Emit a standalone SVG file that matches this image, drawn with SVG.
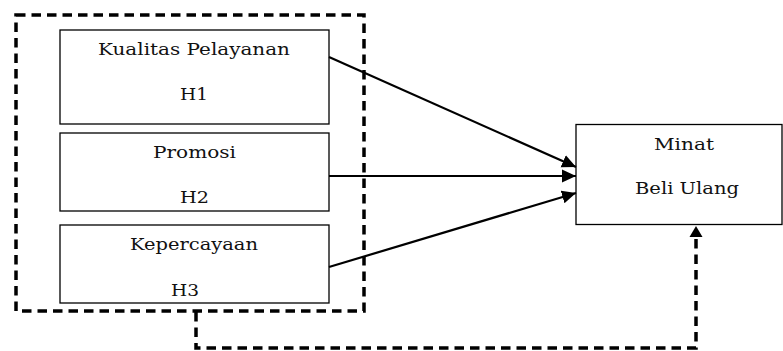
<svg xmlns="http://www.w3.org/2000/svg" width="783" height="351" viewBox="0 0 783 351">
<defs>
<style>
.box{fill:#fff;stroke:#000;stroke-width:1.3}
.lbl{font-family:"DejaVu Serif","Liberation Serif",serif;font-size:17.5px;fill:#111}
.solid{stroke:#000;stroke-width:2.2;fill:none}
.dash{stroke:#000;stroke-width:3.5;fill:none;stroke-dasharray:9.5 6}
</style>
<marker id="ah" markerUnits="userSpaceOnUse" markerWidth="14" markerHeight="14" viewBox="0 0 14 14" refX="14" refY="7" orient="auto">
<path d="M0,0.5 L14,7 L0,13.5 z" fill="#000"/>
</marker>
</defs>
<g id="group-frame">
<rect x="16" y="15" width="348" height="296" class="dash"/>
</g>
<g id="node-h1">
<rect x="60" y="30" width="269" height="94" class="box"/>
<text class="lbl" x="98" y="55" textLength="192" lengthAdjust="spacingAndGlyphs">Kualitas Pelayanan</text>
<text class="lbl" x="180" y="100" textLength="28" lengthAdjust="spacingAndGlyphs">H1</text>
</g>
<g id="node-h2">
<rect x="60" y="133" width="269" height="78" class="box"/>
<text class="lbl" x="153" y="158" textLength="83" lengthAdjust="spacingAndGlyphs">Promosi</text>
<text class="lbl" x="180" y="203" textLength="29" lengthAdjust="spacingAndGlyphs">H2</text>
</g>
<g id="node-h3">
<rect x="60" y="225" width="269" height="78" class="box"/>
<text class="lbl" x="130" y="250" textLength="128" lengthAdjust="spacingAndGlyphs">Kepercayaan</text>
<text class="lbl" x="171" y="296" textLength="28" lengthAdjust="spacingAndGlyphs">H3</text>
</g>
<g id="node-minat">
<rect x="576" y="124.5" width="206" height="100" class="box"/>
<text class="lbl" x="654" y="150" textLength="60" lengthAdjust="spacingAndGlyphs">Minat</text>
<text class="lbl" x="635" y="194" textLength="104" lengthAdjust="spacingAndGlyphs">Beli Ulang</text>
</g>
<g id="connectors">
<line x1="329" y1="57" x2="576" y2="167" class="solid" marker-end="url(#ah)"/>
<line x1="329" y1="176" x2="576" y2="176" class="solid" marker-end="url(#ah)"/>
<line x1="329" y1="267" x2="576" y2="193" class="solid" marker-end="url(#ah)"/>
<polyline points="196,312 196,348 696,348 696,238" class="dash"/>
<path d="M696,226 L702.5,237 L689.5,237 z" fill="#000"/>
</g>
</svg>
